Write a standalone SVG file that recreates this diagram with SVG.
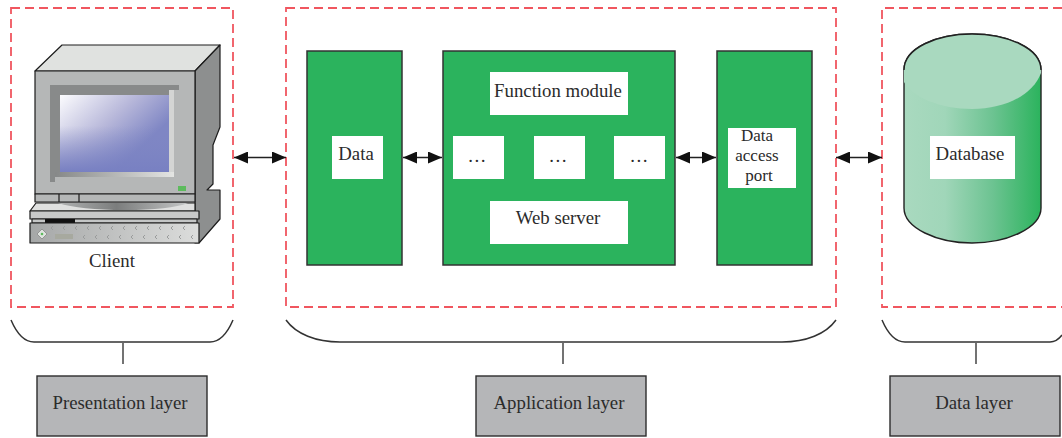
<svg xmlns="http://www.w3.org/2000/svg" width="1062" height="438" viewBox="0 0 1062 438">
<defs>
<marker id="arr" viewBox="0 0 14 12" refX="14" refY="6" markerWidth="14" markerHeight="12" markerUnits="userSpaceOnUse" orient="auto-start-reverse"><path d="M0 0L14 6L0 12Z" fill="#111"/></marker>
<linearGradient id="screen" x1="0" y1="0" x2="1" y2="0.75"><stop offset="0" stop-color="#fcfcfe"/><stop offset="0.45" stop-color="#b8b8da"/><stop offset="0.8" stop-color="#7f86c4"/></linearGradient>
<linearGradient id="screen2" x1="0" y1="0" x2="0" y2="1"><stop offset="0.4" stop-color="#8088c4" stop-opacity="0"/><stop offset="1" stop-color="#7880c2"/></linearGradient>
<linearGradient id="bezel" x1="0" y1="0" x2="1" y2="0"><stop offset="0" stop-color="#868888"/><stop offset="1" stop-color="#e4e5e3"/></linearGradient>
<linearGradient id="foot" x1="0" y1="0" x2="1" y2="0"><stop offset="0" stop-color="#b0b2b2"/><stop offset="0.45" stop-color="#7b7d7d"/><stop offset="1" stop-color="#c4c6c6"/></linearGradient>
<linearGradient id="panel" x1="0" y1="0" x2="1" y2="0"><stop offset="0" stop-color="#a5a7a7"/><stop offset="1" stop-color="#dcdddc"/></linearGradient>
<linearGradient id="cyl" x1="0" y1="0" x2="1" y2="0"><stop offset="0" stop-color="#a9d9bf"/><stop offset="0.3" stop-color="#a0d6b9"/><stop offset="0.65" stop-color="#6cc391"/><stop offset="1" stop-color="#2bb35d"/></linearGradient>
</defs>
<style>
text{font-family:"Liberation Serif","Times New Roman",serif;font-size:18.8px;fill:#2b2b2b;text-anchor:middle}
text.port{font-size:17px}
.zone{fill:none;stroke:#f0565f;stroke-width:1.8;stroke-dasharray:9 5}
.green{fill:#2bb35d;stroke:#333;stroke-width:1.5}
.white{fill:#fff}
.layer{fill:#b5b6b8;stroke:#2d2d2d;stroke-width:1.4}
.brace{fill:none;stroke:#333;stroke-width:1.5}
.stem{stroke:#444;stroke-width:1.5}
.conn{stroke:#222;stroke-width:1.5;marker-start:url(#arr);marker-end:url(#arr)}
.pc{stroke:#1c1c1c;stroke-width:1.2;stroke-linejoin:round}
.chev{fill:none;stroke:#9a9c9c;stroke-width:1}
</style>
<g id="zones">
<rect class="zone" x="11" y="8" width="222" height="299"/>
<rect class="zone" x="286" y="8" width="550" height="299"/>
<path class="zone" d="M1062 8H882V307H1062"/>
</g>
<g id="client">
<path class="pc" fill="#e0e2e0" d="M35 71L62 45H220L195 71Z"/>
<path class="pc" fill="#8d8f8f" d="M195 71L220 45V127L213 145V184L207 190L220 190V219L199 243H195Z"/>
<rect class="pc" x="35" y="71" width="160" height="123" fill="#b5b7b7"/>
<path fill="#888a8a" d="M50 85H179V90H174V172H55V182H50Z"/>
<rect x="55" y="172" width="119" height="5" fill="url(#bezel)"/>
<rect x="169" y="90" width="5" height="82" fill="#d4d5d4"/>
<rect x="60" y="95" width="109" height="77" fill="url(#screen)"/>
<rect x="60" y="95" width="109" height="77" fill="url(#screen2)"/>
<rect x="178" y="186" width="8" height="5" fill="#5dbb5d"/>
<rect class="pc" x="35" y="194" width="160" height="8" fill="#b5b7b7"/>
<path class="pc" d="M59 194V202M79 194V202" fill="none"/>
<path class="pc" fill="#dfe0df" d="M30 211L36 203H195V211Z"/>
<path fill="url(#foot)" d="M58 203H188Q170 210 125 210Q80 210 58 203Z"/>
<rect class="pc" x="30" y="211" width="169" height="8" fill="#c8c9c9"/>
<rect class="pc" x="32" y="219" width="165" height="4" fill="#c4c6c6"/>
<rect x="45" y="219" width="30" height="4" fill="#111"/>
<rect class="pc" x="30" y="223" width="169" height="20" fill="url(#panel)"/>
<path fill="#dfe3df" stroke="#888" stroke-width="0.8" d="M42 229L47 234L42 239L37 234Z"/>
<circle cx="42" cy="234" r="1.3" fill="#5dbb5d"/>
<rect x="55" y="234" width="18" height="5" fill="#a7a99f"/>
<path class="chev" d="M53 226l-2 2l2 2M65 226l-2 2l2 2M77 226l-2 2l2 2M89 226l-2 2l2 2M101 226l-2 2l2 2M113 226l-2 2l2 2M125 226l-2 2l2 2M137 226l-2 2l2 2M149 226l-2 2l2 2M161 226l-2 2l2 2M173 226l-2 2l2 2M185 226l-2 2l2 2"/>
<path class="chev" d="M85 235l-2 2l2 2M97 235l-2 2l2 2M109 235l-2 2l2 2M121 235l-2 2l2 2M133 235l-2 2l2 2M145 235l-2 2l2 2M157 235l-2 2l2 2M169 235l-2 2l2 2M181 235l-2 2l2 2M193 235l-2 2l2 2"/>
<text x="112" y="267">Client</text>
</g>
<g id="data-box">
<rect class="green" x="307" y="51" width="95" height="214"/>
<rect class="white" x="332" y="136" width="51" height="43"/>
<text x="356" y="160">Data</text>
</g>
<g id="web-box">
<rect class="green" x="443" y="51" width="232" height="214"/>
<g id="function-module"><rect class="white" x="490" y="72" width="138" height="43"/><text x="558" y="97">Function module</text></g>
<g id="dots-1"><rect class="white" x="453" y="136" width="51" height="43"/><text x="477" y="162">…</text></g>
<g id="dots-2"><rect class="white" x="534" y="136" width="51" height="43"/><text x="558" y="162">…</text></g>
<g id="dots-3"><rect class="white" x="614" y="136" width="51" height="43"/><text x="639" y="162">…</text></g>
<g id="web-server"><rect class="white" x="490" y="201" width="138" height="43"/><text x="558" y="224">Web server</text></g>
</g>
<g id="port-box">
<rect class="green" x="717" y="51" width="95" height="214"/>
<rect class="white" x="728" y="128" width="68" height="60"/>
<text class="port" x="757" y="141">Data</text><text class="port" x="757" y="161">access</text><text class="port" x="759" y="181">port</text>
</g>
<g id="database">
<path d="M904 70C904 48 937 34 972 34C1007 34 1041 48 1041 70V208C1041 228 1007 243 972 243C937 243 904 228 904 208Z" fill="url(#cyl)" stroke="#222" stroke-width="1.4"/>
<path d="M904 70C904 48 937 34 972 34C1007 34 1041 48 1041 70V73C1033 95 1005 109 972 109C940 109 912 97 904 82Z" fill="#a9d9bf"/>
<path d="M904 70C904 48 937 34 972 34C1007 34 1041 48 1041 70" fill="none" stroke="#222" stroke-width="1.4"/>
<rect class="white" x="930" y="136" width="85" height="43"/>
<text x="970" y="160">Database</text>
</g>
<g id="connectors">
<line class="conn" x1="234" y1="157.5" x2="286" y2="157.5"/>
<line class="conn" x1="403" y1="157.5" x2="442" y2="157.5"/>
<line class="conn" x1="676" y1="157.5" x2="716" y2="157.5"/>
<line class="conn" x1="836" y1="157.5" x2="882" y2="157.5"/>
<path class="brace" d="M11 320C17 334 24 342 34 342H210C220 342 227 334 233 320"/>
<path class="brace" d="M286 320C296 334 316 342 340 342H782C806 342 826 334 836 320"/>
<path class="brace" d="M882 320C888 334 895 342 905 342H1050C1055 342 1059 339 1062 335"/>
<line class="stem" x1="123" y1="343" x2="123" y2="364"/>
<line class="stem" x1="563" y1="343" x2="563" y2="364"/>
<line class="stem" x1="976" y1="343" x2="976" y2="364"/>
</g>
<g id="presentation-layer"><rect class="layer" x="37" y="376" width="170" height="60"/><text x="120" y="409">Presentation layer</text></g>
<g id="application-layer"><rect class="layer" x="476" y="376" width="170" height="60"/><text x="559" y="409">Application layer</text></g>
<g id="data-layer"><rect class="layer" x="890" y="376" width="170" height="60"/><text x="974" y="409">Data layer</text></g>
</svg>
